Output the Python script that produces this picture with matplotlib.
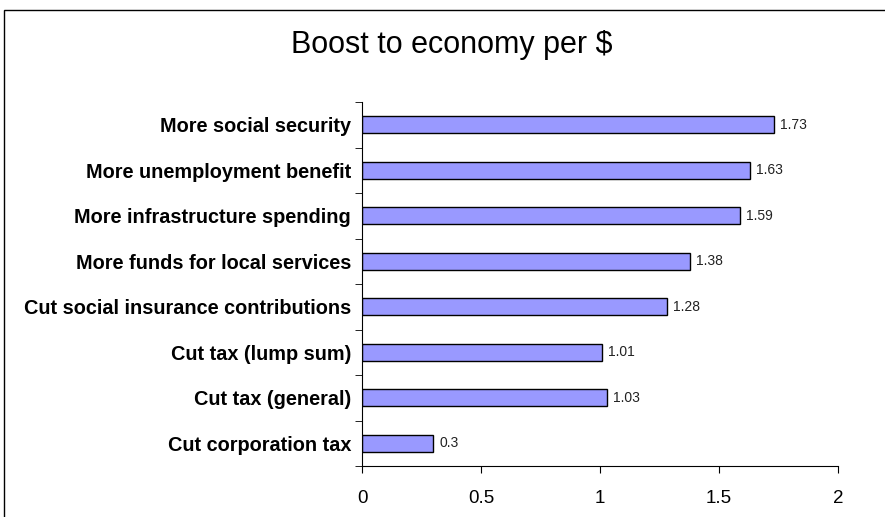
import numpy as np
import matplotlib.pyplot as plt
from matplotlib.patches import Rectangle

categories = ["More social security", "More unemployment benefit",
              "More infrastructure spending", "More funds for local services",
              "Cut social insurance contributions", "Cut tax (lump sum)",
              "Cut tax (general)", "Cut corporation tax"]
values = [1.73, 1.63, 1.59, 1.38, 1.28, 1.01, 1.03, 0.3]
xticks = [0, 0.5, 1, 1.5, 2]
xticklabels = ["0", "0.5", "1", "1.5", "2"]

plt.rcParams['font.family'] = ['Liberation Sans', 'DejaVu Sans']

fig = plt.figure(figsize=(8.85, 5.17), dpi=100)
ax = fig.add_axes([362/885, 1-466/517, 476/885, 364/517])

y = np.arange(len(categories))[::-1]
ax.barh(y, values, height=0.38, color='#9999FF', edgecolor='black', linewidth=1)
for yi, v in zip(y, values):
    ax.text(v + 0.025, yi, f"{v:g}", va='center', ha='left', fontsize=10, color='#222222')

ax.set_xlim(0, 2)
ax.set_ylim(-0.5, 7.5)
ax.set_xticks(xticks)
ax.set_xticklabels(xticklabels, fontsize=13.5)
ax.set_yticks(y)
ax.set_yticklabels(categories, fontsize=14.3, fontweight='bold')
ax.tick_params(axis='y', length=0, pad=8)
ax.set_yticks(np.arange(-0.5, 8, 1), minor=True)
ax.tick_params(axis='y', which='minor', length=5, direction='out')
ax.tick_params(axis='x', length=5, direction='out', pad=12)
for s in ['top', 'right']:
    ax.spines[s].set_visible(False)

fig.text(0.51, 1-45/517, "Boost to economy per $", ha='center', va='center', fontsize=22)
fig.patches.append(Rectangle((3.5/885, -0.1), 1.2, 1-9.5/517+0.1, transform=fig.transFigure,
                             fill=False, edgecolor='black', linewidth=1))

fig.savefig("out.png", dpi=100)
